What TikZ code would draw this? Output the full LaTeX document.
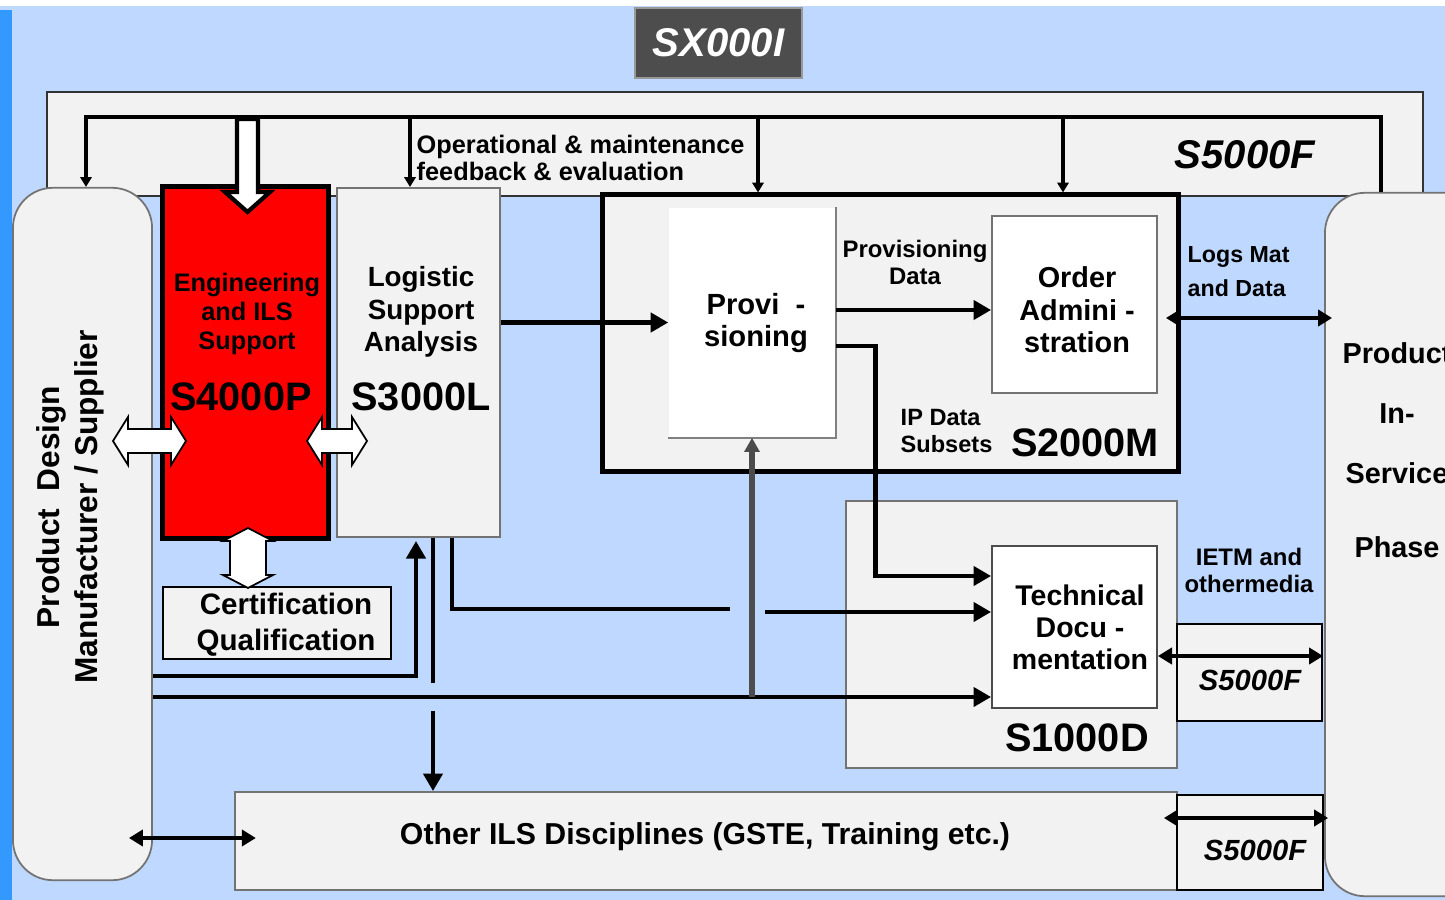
\documentclass[tikz,border=0pt]{standalone}
\usepackage{fontspec}
\setmainfont{Liberation Sans}
\usetikzlibrary{arrows.meta,calc}

\definecolor{bgblue}{RGB}{190,216,255}
\definecolor{stripblue}{RGB}{51,153,255}
\definecolor{panel}{RGB}{242,242,242}
\definecolor{titlegray}{RGB}{77,77,77}

\tikzset{
  panelbox/.style={draw=black!55, fill=panel, line width=0.5pt, inner sep=0pt},
  whitebox/.style={draw=black!55, fill=white, line width=0.5pt, inner sep=0pt},
  txt/.style={font=\bfseries\fontsize{8.2}{9.2}\selectfont, align=center, inner sep=0pt},
  small/.style={font=\bfseries\fontsize{6.8}{7.7}\selectfont, align=center, inner sep=0pt},
  big/.style={font=\bfseries\fontsize{11.3}{13}\selectfont, inner sep=0pt},
  bigit/.style={font=\bfseries\itshape\fontsize{11.4}{13}\selectfont, inner sep=0pt},
  smallit/.style={font=\bfseries\itshape\fontsize{8.3}{10}\selectfont, inner sep=0pt},
  conn/.style={line width=1.4pt, -{Triangle[length=5pt,width=5.4pt]}},
  plain/.style={line width=1.4pt},
  dconn/.style={line width=1.4pt, {Triangle[length=4pt,width=4.6pt]}-{Triangle[length=4pt,width=4.6pt]}},
  feed/.style={line width=1.3pt, -{Triangle[length=2.8pt,width=3.2pt]}},
  branch/.style={line width=0.9pt, -{Triangle[length=2.8pt,width=3.2pt]}},
  uparr/.style={line width=1.5pt, draw=black!70, -{Triangle[length=4pt,width=4.2pt]}},
  blockarr/.style={draw=black, fill=white, line width=0.5pt, line join=miter}
}

\begin{document}
\begin{tikzpicture}[x=0.01cm, y=-0.01cm]
  \useasboundingbox (0,0) rectangle (1445,900);
  \clip (0,0) rectangle (1445,900);
  \fill[bgblue] (0,0) rectangle (1445,900);
  \fill[white] (0,0) rectangle (1445,6);
  \fill[stripblue] (0,10) rectangle (12,900);

  %% title
  \node[fill=titlegray, draw=black!40, minimum width=1.67cm, minimum height=0.70cm,
        text=white, bigit] (title) at (718.5,43) {SX000I};

  %% S5000F feedback frame
  \node[draw=black!80, fill=panel, line width=0.6pt, anchor=north west,
        minimum width=13.75cm, minimum height=1.04cm] (frame) at (46,91) {};
  \node[bigit] (framelbl) at (1245,155) {S5000F};

  %% supplier
  \node[panelbox, rounded corners=0.4cm, minimum width=1.39cm, minimum height=6.92cm] (pdm) at (82.5,534) {};
  \node[rotate=90, font=\bfseries\fontsize{9}{10.8}\selectfont, align=center] (pdmlbl) at (70,507)
    {Product~~Design\\Manufacturer / Supplier};

  %% S4000P
  \node[draw=black, fill=red, line width=1.4pt, minimum width=1.65cm, minimum height=3.51cm] (eng) at (245.5,362.5) {};
  \node[txt, font=\bfseries\fontsize{7.2}{8.3}\selectfont] (englbl) at (247,314) {Engineering\\and ILS\\Support};
  \node[big] (engspec) at (241,397) {S4000P};

  %% S3000L
  \node[panelbox, minimum width=1.63cm, minimum height=3.49cm] (lsa) at (418.5,362.5) {};
  \node[txt, font=\bfseries\fontsize{7.9}{9.2}\selectfont] (lsalbl) at (421,312) {Logistic\\Support\\Analysis};
  \node[big] (lsaspec) at (421,397) {S3000L};

  %% certification
  \node[panelbox, draw=black, minimum width=2.28cm, minimum height=0.72cm] (cert) at (277,623) {};
  \node[txt, font=\bfseries\fontsize{8.4}{10.2}\selectfont] (certlbl) at (286,625) {Certification\\Qualification};

  %% S2000M
  \node[draw=black, fill=panel, line width=1.4pt, minimum width=5.75cm, minimum height=2.76cm] (sm) at (890.5,333) {};
  \node[fill=white, inner sep=0pt, minimum width=1.66cm, minimum height=2.29cm] (prov) at (752,322.5) {};
  \draw[black!50, line width=0.6pt] (prov.north east) -- (prov.south east) -- (prov.south west);
  \node[txt, font=\bfseries\fontsize{8.3}{9.2}\selectfont] (provlbl) at (756,323) {Provi~~-\\sioning};
  \node[whitebox, minimum width=1.65cm, minimum height=1.77cm] (order) at (1074.5,304.5) {};
  \node[txt] (orderlbl) at (1077,310) {Order\\Admini -\\stration};
  \node[small] (pdlbl) at (915,262) {Provisioning\\Data};
  \node[small, align=left, anchor=west, font=\bfseries\fontsize{6.7}{7.4}\selectfont] (iplbl) at (900,431) {IP Data\\Subsets};
  \node[big] (smspec) at (1085,443) {S2000M};

  %% S1000D
  \node[panelbox, minimum width=3.31cm, minimum height=2.67cm] (sd) at (1011.5,634.5) {};
  \node[whitebox, draw=black!70, minimum width=1.65cm, minimum height=1.62cm] (tech) at (1074.5,627) {};
  \node[txt, font=\bfseries\fontsize{8.1}{9.1}\selectfont] (techlbl) at (1080,627) {Technical\\Docu -\\mentation};
  \node[big] (sdspec) at (1077,738) {S1000D};
  \node[small] (ietmlbl) at (1249,570) {IETM and\\othermedia};
  \node[draw=black, fill=panel, line width=0.6pt, minimum width=1.45cm, minimum height=0.97cm] (sfm) at (1249.5,672.5) {};
  \node[smallit] (sfmlbl) at (1250,680) {S5000F};

  %% in-service
  \node[panelbox, rounded corners=0.4cm, minimum width=1.75cm, minimum height=7.03cm] (serv) at (1412.5,544.5) {};
  \node[txt, font=\bfseries\fontsize{8.2}{17.1}\selectfont] (servlbl) at (1397,450) {Product\\In-\\Service\\[3.7pt]Phase};

  %% other ILS
  \node[panelbox, minimum width=9.42cm, minimum height=0.98cm] (other) at (706,841) {};
  \node[txt, font=\bfseries\fontsize{8.6}{10}\selectfont] (otherlbl) at (705,837) {Other ILS Disciplines (GSTE, Training etc.)};
  \node[draw=black, fill=panel, line width=0.6pt, minimum width=1.46cm, minimum height=0.95cm] (sfb) at (1250,842.5) {};
  \node[smallit] (sfblbl) at (1255,850) {S5000F};

  %% feedback loop
  \coordinate (fbr) at (1381,117);
  \coordinate (fbl) at (86,117);
  \draw[feed] (fbr |- serv.north) -- (fbr) -- (fbl) -- (fbl |- pdm.north);
  \foreach \x/\tgt in {410/lsa, 758/sm, 1063/sm}
    \draw[branch] (\x,117) -- (\x,117 |- \tgt.north);
  \node[small, align=left, anchor=west, font=\bfseries\fontsize{7.2}{7.7}\selectfont] (fblbl) at (416,158)
    {Operational \& maintenance\\feedback \& evaluation};

  %% S2000M flows
  \draw[conn] (lsa.east |- prov.west) -- (prov.west);
  \draw[conn] ($(prov.east)+(0,-12.5)$) -- ($(order.west)+(0,5.5)$);
  \draw[conn] ($(prov.east)+(0,23.5)$) -| ($(tech.west)+(-116,-51)$) -- ($(tech.west)+(0,-51)$);

  %% logs mat and data
  \coordinate (lm) at ($(order.east)+(8,13.5)$);
  \node[small, align=left, anchor=west, font=\bfseries\fontsize{6.6}{9.7}\selectfont] (lmlbl) at (1187,272) {Logs Mat\\and Data};
  \draw[dconn] (lm) -- ($(lm -| serv.west)+(8,0)$);

  %% IETM
  \coordinate (ie) at ($(tech.east)+(0,29)$);
  \draw[dconn] (ie) -- (ie -| sfm.east);

  %% other ILS exchanges
  \coordinate (oi) at ($(sfb.west)+(-12,-24.5)$);
  \draw[dconn] (oi) -- ($(oi -| sfb.east)+(4,0)$);
  \coordinate (po) at ($(pdm.east)+(-24,304)$);
  \draw[dconn] (po) -- ($(po -| other.west)+(22,0)$);

  %% supplier to S3000L
  \draw[conn] ($(pdm.east)+(0,142)$) -| ($(lsa.south)+(-2.5,3)$);

  %% S3000L down
  \coordinate (lo) at ($(lsa.south)+(14.5,0)$);
  \draw[plain] (lo) -- ++(0,145);
  \draw[conn] ($(lo)+(0,173)$) -- (lo |- other.north);
  \coordinate (lt) at ($(lsa.south)+(33.5,0)$);
  \draw[plain] (lt) |- ++(278,71);
  \draw[conn] ($(tech.west)+(-226,-15)$) -- ($(tech.west)+(0,-15)$);

  %% supplier bus
  \coordinate (bus) at ($(pdm.east)+(0,163)$);
  \draw[conn] (bus) -- (bus -| tech.west);
  \draw[uparr] (bus -| prov.south) -- (prov.south);

  %% block arrows
  \draw[blockarr, line width=1.2pt] (237,119) -- (258,119) -- (258,192) -- (270,192) -- (247.5,212)
    -- (225,192) -- (237,192) -- cycle;
  \draw[blockarr] (113,441) -- (128,417) -- (128,429) -- (171,429) -- (171,417) -- (186,441)
    -- (171,465) -- (171,453) -- (128,453) -- (128,465) -- cycle;
  \draw[blockarr] (307,441) -- (322,417) -- (322,429) -- (352,429) -- (352,417) -- (367,441)
    -- (352,465) -- (352,453) -- (322,453) -- (322,465) -- cycle;
  \draw[blockarr] (248,528) -- (273,541) -- (266,541) -- (266,575) -- (273,575) -- (248,588)
    -- (223,575) -- (230,575) -- (230,541) -- (223,541) -- cycle;
\end{tikzpicture}
\end{document}
